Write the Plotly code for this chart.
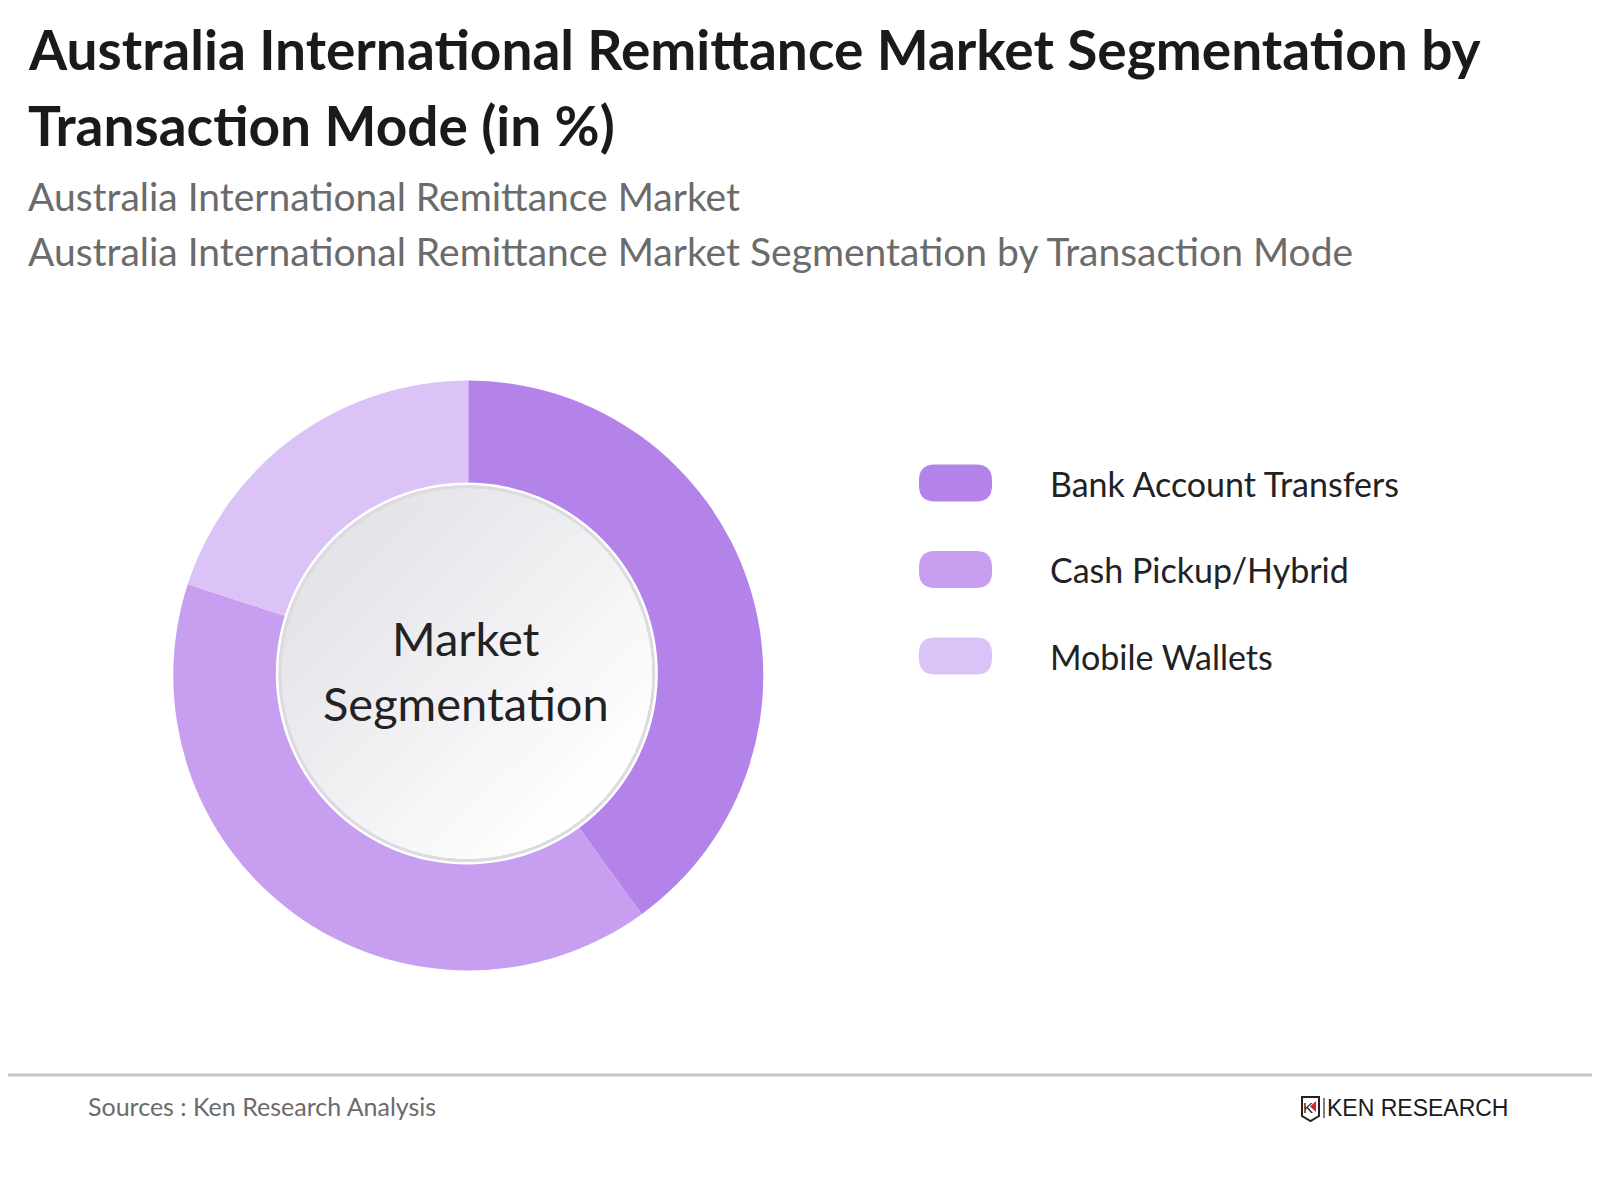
import math
import plotly.graph_objects as go

# ---------------- data ----------------
categories = ["Bank Account Transfers", "Cash Pickup/Hybrid", "Mobile Wallets"]
values = [40, 40, 20]
colors = ["#b483ea", "#c79ef0", "#dcc3f7"]

title_lines = ["Australia International Remittance Market Segmentation by",
               "Transaction Mode (in %)"]
subtitle_lines = ["Australia International Remittance Market",
                  "Australia International Remittance Market Segmentation by Transaction Mode"]
center_text = ["Market", "Segmentation"]
source_text = "Sources : Ken Research Analysis"
brand_text = "KEN RESEARCH"

# page offset (browser body margin) and figure size
OX, OY = 8, 8
FW, FH = 1592, 1184


def px(x):
    return (x - OX) / FW


def py(y):
    return 1 - (y - OY) / FH


fig = go.Figure()

# donut
cx, cy, R = 468.3, 675.5, 295
fig.add_trace(go.Pie(
    labels=categories, values=values, sort=False, direction="clockwise",
    rotation=0, hole=0.6, textinfo="none", showlegend=False,
    marker=dict(colors=colors, line=dict(width=0)),
    domain=dict(x=[px(cx - R), px(cx + R)], y=[py(cy + R), py(cy - R)]),
))

shapes = []
annotations = []


def circle(x, y, r, fill):
    return dict(type="circle", xref="paper", yref="paper", layer="above",
                x0=px(x - r), x1=px(x + r), y0=py(y + r), y1=py(y - r),
                fillcolor=fill, line=dict(width=0))


# center disc with linear gradient (top-left grey -> bottom-right white)
ccx, ccy = 466.8, 673.5
shapes.append(circle(ccx, ccy, 191, "#ffffff"))
shapes.append(circle(ccx, ccy, 188.5, "#dcdce0"))
r0 = 185
c_start = (227, 227, 232)
c_end = (255, 255, 255)
N = 40
alpha = math.radians(45)
for i in range(N):
    t = i / N
    s = -r0 + 2 * r0 * t
    beta = math.acos(max(-1.0, min(1.0, s / r0)))
    pts = []
    M = 48
    for k in range(M + 1):
        phi = alpha - beta + 2 * beta * k / M
        pts.append((ccx + r0 * math.cos(phi), ccy + r0 * math.sin(phi)))
    path = "M " + " L ".join("%.5f %.5f" % (px(a), py(b)) for a, b in pts) + " Z"
    tc = (i + 0.5) / N
    col = tuple(int(round(c_start[k] + (c_end[k] - c_start[k]) * tc)) for k in range(3))
    shapes.append(dict(type="path", xref="paper", yref="paper", layer="above",
                       path=path, fillcolor="rgb(%d,%d,%d)" % col, line=dict(width=0)))

for i, line in enumerate(center_text):
    annotations.append(dict(x=px(466), y=py(638 + i * 65), xref="paper", yref="paper",
                            text=line, showarrow=False, xanchor="center", yanchor="middle",
                            font=dict(family="Lato", size=47, color="#222222")))

# titles
for i, line in enumerate(title_lines):
    annotations.append(dict(x=px(25.5), y=py(49 + i * 76), xref="paper", yref="paper",
                            text="<b>%s</b>" % line, showarrow=False, xanchor="left",
                            yanchor="middle",
                            font=dict(family="Lato", size=55, color="#1a1a1a")))
for i, line in enumerate(subtitle_lines):
    annotations.append(dict(x=px(25.5), y=py(196 + i * 55), xref="paper", yref="paper",
                            text=line, showarrow=False, xanchor="left", yanchor="middle",
                            font=dict(family="Lato", size=39, color="#6b6b6b")))


# custom legend with pill markers
def pill(x0, y0, x1, y1, rad):
    return ("M {a} {b} L {c} {b} Q {x1} {b} {x1} {e} L {x1} {f} Q {x1} {y1b} {c} {y1b} "
            "L {a} {y1b} Q {x0} {y1b} {x0} {f} L {x0} {e} Q {x0} {b} {a} {b} Z").format(
        a=px(x0 + rad), c=px(x1 - rad), b=py(y0), y1b=py(y1),
        e=py(y0 + rad), f=py(y1 - rad), x0=px(x0), x1=px(x1))


for i, (cat, col) in enumerate(zip(categories, colors)):
    yc = 483 + i * 86.5
    shapes.append(dict(type="path", xref="paper", yref="paper", layer="above",
                       path=pill(919, yc - 18.5, 992, yc + 18.5, 16),
                       fillcolor=col, line=dict(width=0)))
    annotations.append(dict(x=px(1048), y=py(yc), xref="paper", yref="paper",
                            text=cat, showarrow=False, xanchor="left", yanchor="middle",
                            font=dict(family="Lato", size=34, color="#222222")))

# footer
shapes.append(dict(type="line", xref="paper", yref="paper", x0=0, x1=1,
                   y0=py(1075), y1=py(1075), line=dict(color="#c4c4c4", width=3)))
annotations.append(dict(x=px(86), y=py(1106), xref="paper", yref="paper",
                        text=source_text, showarrow=False, xanchor="left", yanchor="middle",
                        font=dict(family="Lato", size=25, color="#6b6b6b")))

# logo
shapes.append(dict(type="path", xref="paper", yref="paper", layer="above",
                   path="M {} {} L {} {} L {} {} L {} {} L {} {} Z".format(
                       px(1302), py(1097), px(1319), py(1097), px(1319), py(1116),
                       px(1310.5), py(1121), px(1302), py(1116)),
                   fillcolor="#ffffff", line=dict(color="#222222", width=2)))
shapes.append(dict(type="path", xref="paper", yref="paper", layer="above",
                   path="M {} {} L {} {} L {} {} Z".format(
                       px(1316), py(1101), px(1316), py(1112), px(1310), py(1106.5)),
                   fillcolor="#e02020", line=dict(width=0)))
annotations.append(dict(x=px(1308), y=py(1107), xref="paper", yref="paper",
                        text="K", showarrow=False, xanchor="center", yanchor="middle",
                        font=dict(family="Liberation Sans", size=15, color="#222222")))
shapes.append(dict(type="line", xref="paper", yref="paper", x0=px(1324), x1=px(1324),
                   y0=py(1098), y1=py(1118), line=dict(color="#555555", width=1.5)))
annotations.append(dict(x=px(1325), y=py(1108), xref="paper", yref="paper",
                        text=brand_text, showarrow=False, xanchor="left", yanchor="middle",
                        font=dict(family="Liberation Sans", size=23, color="#1a1a1a")))

fig.update_layout(
    width=FW, height=FH, margin=dict(l=0, r=0, t=0, b=0),
    paper_bgcolor="#ffffff", plot_bgcolor="#ffffff",
    shapes=shapes, annotations=annotations, showlegend=False,
)

fig.write_html("out.html")
